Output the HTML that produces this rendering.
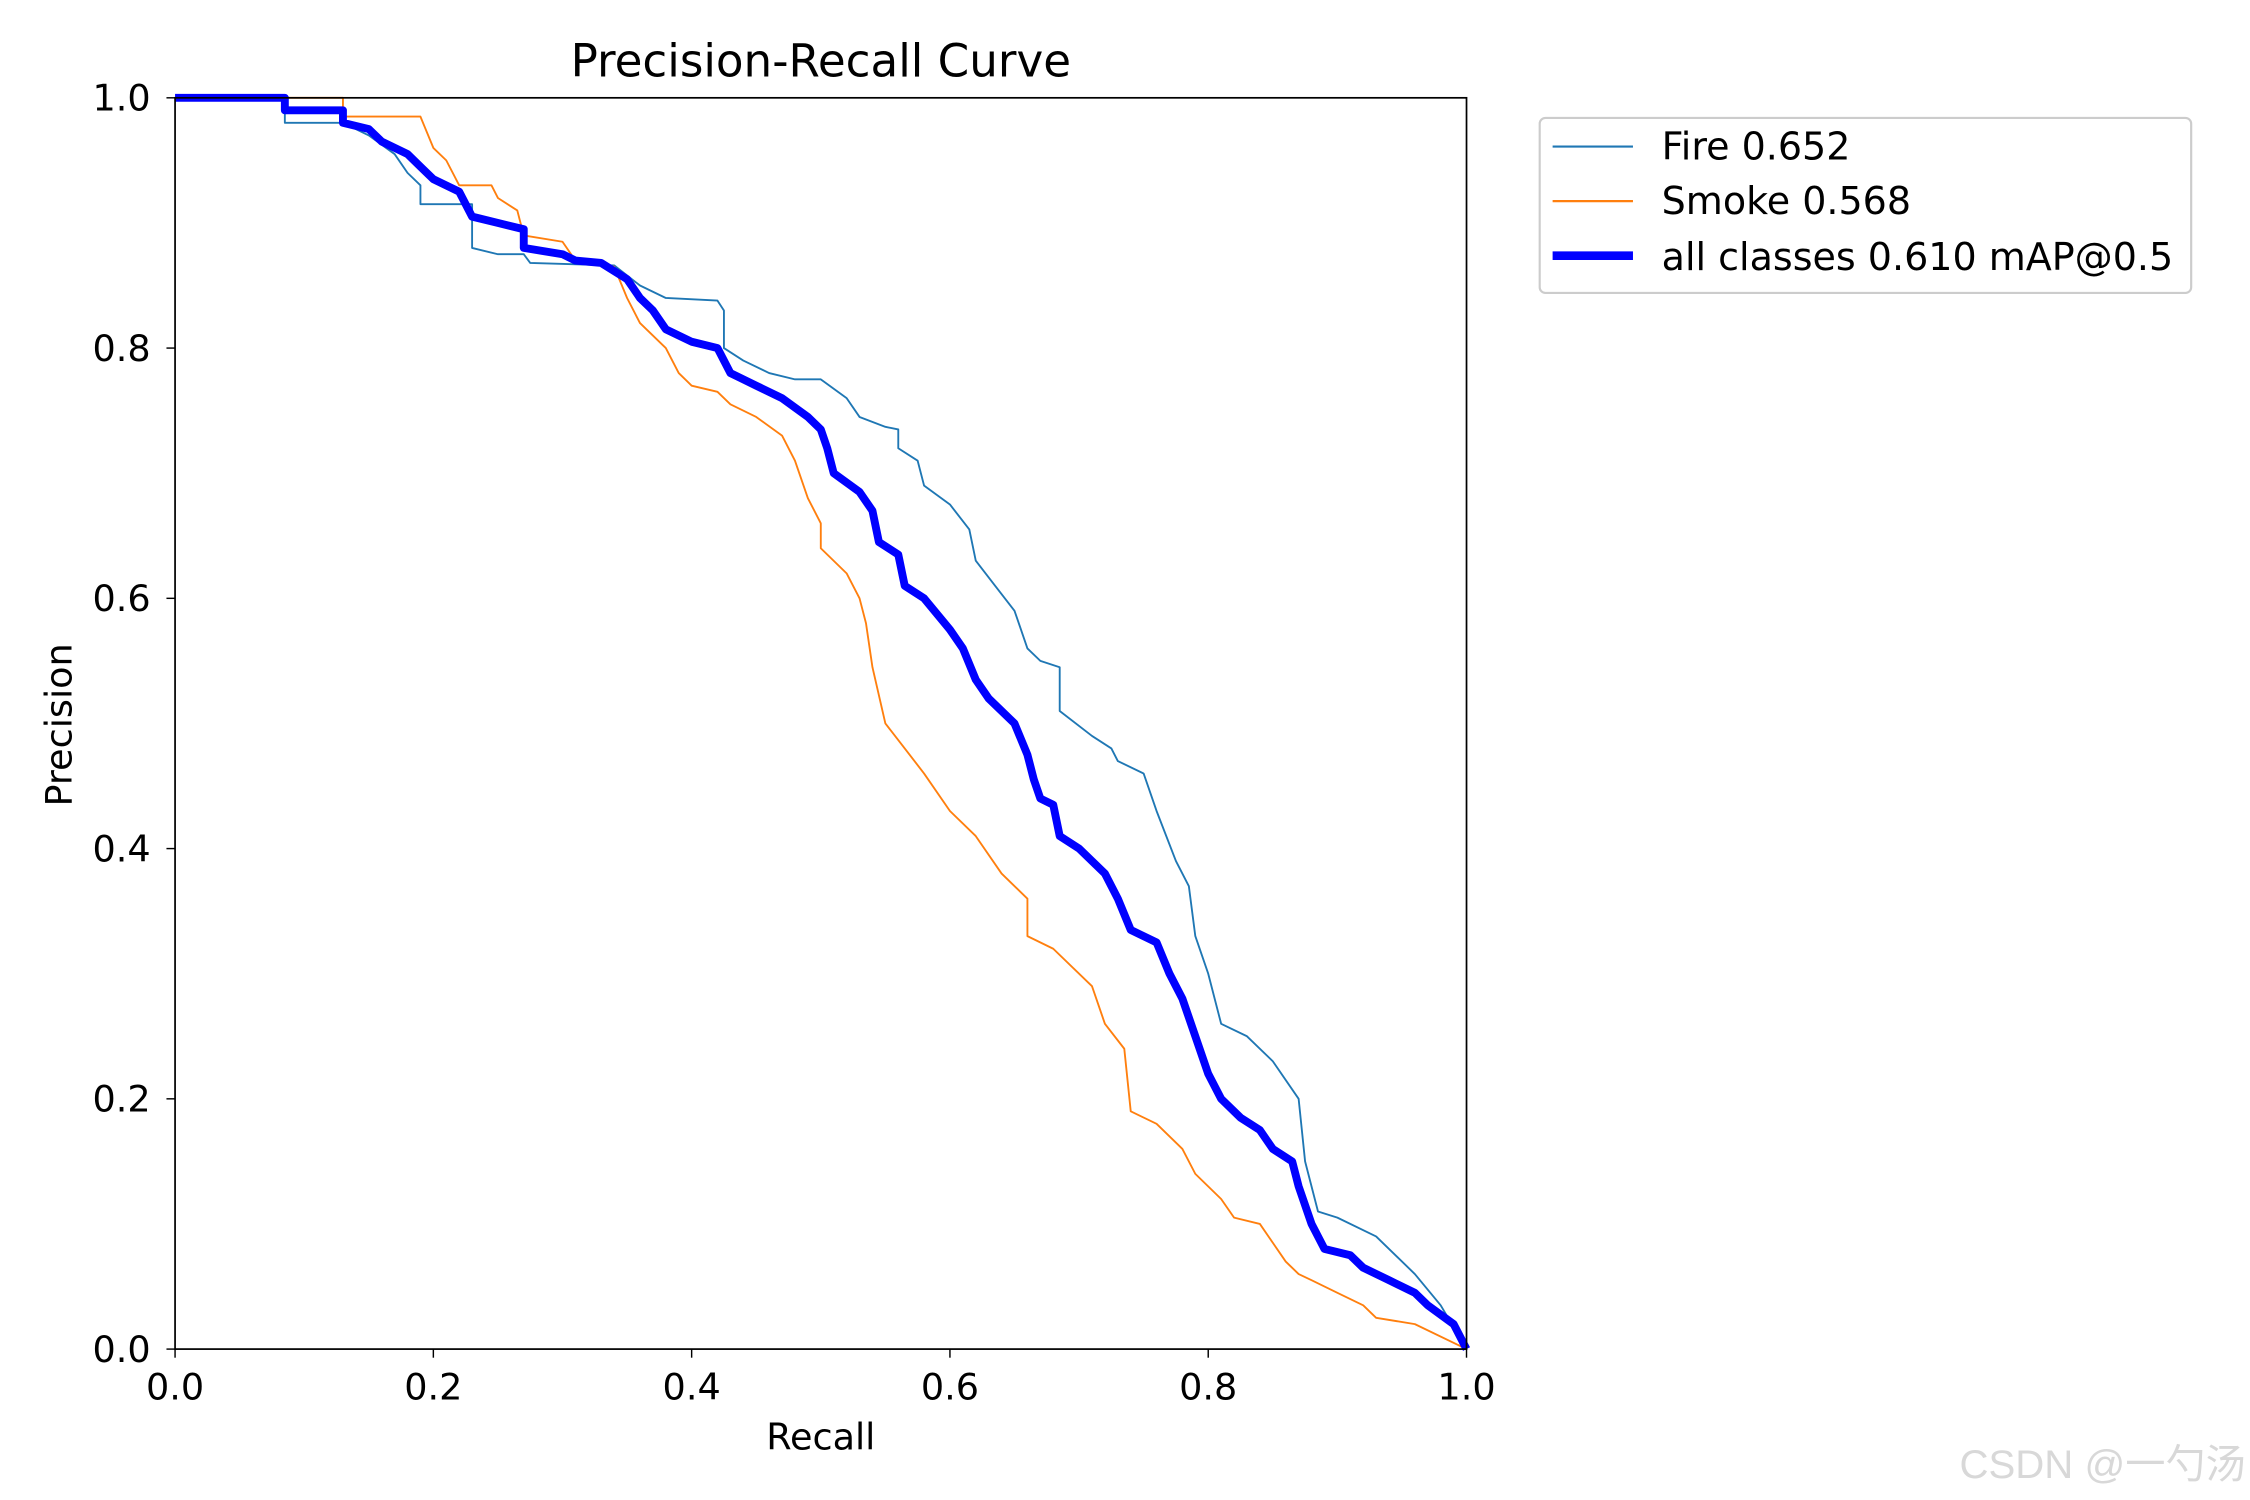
<!DOCTYPE html>
<html><head><meta charset="utf-8"><style>
html,body{margin:0;padding:0;background:#fff;}
svg{display:block;font-family:"DejaVu Sans","Liberation Sans","Noto Sans CJK SC",sans-serif;}
</style></head><body>
<svg id="chart" width="2250" height="1500" viewBox="0 0 1568 1045" xmlns="http://www.w3.org/2000/svg">
<rect width="1568" height="1045" fill="#fff"/>
<text x="572" y="53" font-size="31.5" text-anchor="middle">Precision-Recall Curve</text>
<g id="plot"></g>
<rect x="122" y="68" width="900" height="872" fill="none" stroke="#000" stroke-width="1.2"/>
<g id="ticks"></g>
<text x="572" y="1010" font-size="25.5" text-anchor="middle">Recall</text>
<text x="0" y="0" font-size="25.5" text-anchor="middle" transform="translate(50,505) rotate(-90)">Precision</text>
<g>
<rect x="1073" y="82" width="454" height="122" rx="4" fill="#fff" stroke="#ccc" stroke-width="1.5"/>
<line x1="1082" y1="102" x2="1138" y2="102" stroke="#1f77b4" stroke-width="1.5"/>
<text x="1158" y="111" font-size="26.5">Fire 0.652</text>
<line x1="1082" y1="140" x2="1138" y2="140" stroke="#ff7f0e" stroke-width="1.5"/>
<text x="1158" y="149" font-size="26.5">Smoke 0.568</text>
<line x1="1082" y1="178" x2="1138" y2="178" stroke="#0000ff" stroke-width="6"/>
<text x="1158" y="188" font-size="26.5">all classes 0.610 mAP@0.5</text>
</g>
<text x="1565" y="1030" font-size="28" text-anchor="end" fill="#d8d8d8" font-family="Liberation Sans, Noto Sans CJK SC, sans-serif">CSDN @一勺汤</text>
</svg>
<script>
const xTicks=[0,0.2,0.4,0.6,0.8,1.0];
const yTicks=[0,0.2,0.4,0.6,0.8,1.0];
const tickLabels=["0.0","0.2","0.4","0.6","0.8","1.0"];
const fireRecall=[0,0.085,0.085,0.13,0.15,0.17,0.18,0.19,0.19,0.23,0.23,0.25,0.27,0.275,0.34,0.36,0.38,0.42,0.425,0.425,0.44,0.46,0.48,0.5,0.52,0.53,0.55,0.56,0.56,0.575,0.58,0.6,0.615,0.62,0.635,0.65,0.655,0.66,0.67,0.685,0.685,0.71,0.725,0.73,0.75,0.76,0.775,0.785,0.79,0.8,0.81,0.83,0.85,0.87,0.875,0.885,0.9,0.93,0.96,0.98,1.0];
const firePrecision=[1,1,0.98,0.98,0.97,0.955,0.94,0.93,0.915,0.915,0.88,0.875,0.875,0.868,0.866,0.85,0.84,0.838,0.83,0.8,0.79,0.78,0.775,0.775,0.76,0.745,0.737,0.735,0.72,0.71,0.69,0.675,0.655,0.63,0.61,0.59,0.575,0.56,0.55,0.545,0.51,0.49,0.48,0.47,0.46,0.43,0.39,0.37,0.33,0.3,0.26,0.25,0.23,0.2,0.15,0.11,0.105,0.09,0.06,0.035,0];
const smokeRecall=[0,0.13,0.13,0.19,0.2,0.21,0.22,0.245,0.25,0.265,0.27,0.3,0.31,0.34,0.35,0.36,0.38,0.39,0.4,0.42,0.43,0.45,0.47,0.48,0.49,0.5,0.5,0.52,0.53,0.535,0.54,0.55,0.565,0.58,0.6,0.62,0.64,0.66,0.66,0.68,0.71,0.72,0.735,0.74,0.76,0.78,0.79,0.81,0.82,0.84,0.85,0.86,0.87,0.88,0.9,0.92,0.93,0.96,1.0];
const smokePrecision=[1,1,0.985,0.985,0.96,0.95,0.93,0.93,0.92,0.91,0.89,0.885,0.87,0.865,0.84,0.82,0.8,0.78,0.77,0.765,0.755,0.745,0.73,0.71,0.68,0.66,0.64,0.62,0.6,0.58,0.545,0.5,0.48,0.46,0.43,0.41,0.38,0.36,0.33,0.32,0.29,0.26,0.24,0.19,0.18,0.16,0.14,0.12,0.105,0.1,0.085,0.07,0.06,0.055,0.045,0.035,0.025,0.02,0];
const allRecall=[0,0.085,0.085,0.13,0.13,0.15,0.16,0.18,0.19,0.2,0.22,0.23,0.25,0.27,0.27,0.3,0.31,0.33,0.35,0.36,0.37,0.38,0.4,0.42,0.43,0.45,0.47,0.49,0.5,0.505,0.51,0.53,0.54,0.545,0.56,0.565,0.58,0.6,0.61,0.62,0.63,0.65,0.66,0.665,0.67,0.68,0.685,0.7,0.72,0.73,0.74,0.76,0.77,0.78,0.79,0.8,0.81,0.825,0.84,0.85,0.865,0.87,0.88,0.89,0.91,0.92,0.94,0.96,0.97,0.99,1.0];
const allPrecision=[1,1,0.99,0.99,0.98,0.975,0.965,0.955,0.945,0.935,0.925,0.905,0.9,0.895,0.88,0.875,0.87,0.868,0.855,0.84,0.83,0.815,0.805,0.8,0.78,0.77,0.76,0.745,0.735,0.72,0.7,0.685,0.67,0.645,0.635,0.61,0.6,0.575,0.56,0.535,0.52,0.5,0.475,0.455,0.44,0.435,0.41,0.4,0.38,0.36,0.335,0.325,0.3,0.28,0.25,0.22,0.2,0.185,0.175,0.16,0.15,0.13,0.1,0.08,0.075,0.065,0.055,0.045,0.035,0.02,0];
const NS="http://www.w3.org/2000/svg";
function xs(v){return 122+v*900;}
function ys(v){return 940-v*872;}
const plot=document.getElementById('plot');
function drawLine(rx,py,color,w,name){
  const p=document.createElementNS(NS,'polyline');
  p.setAttribute('points',rx.map((r,i)=>xs(r).toFixed(1)+','+ys(py[i]).toFixed(1)).join(' '));
  p.setAttribute('fill','none');p.setAttribute('stroke',color);p.setAttribute('stroke-width',w);
  p.setAttribute('stroke-linejoin','round');
  
  
  plot.appendChild(p);
}
drawLine(fireRecall,firePrecision,'#1f77b4',1.3,'fire-curve');
drawLine(smokeRecall,smokePrecision,'#ff7f0e',1.3,'smoke-curve');
drawLine(allRecall,allPrecision,'#0000ff',5.5,'all-classes-curve');
const tg=document.getElementById('ticks');
xTicks.forEach((t,i)=>{
  const l=document.createElementNS(NS,'line');
  l.setAttribute('x1',xs(t));l.setAttribute('x2',xs(t));l.setAttribute('y1',940);l.setAttribute('y2',946);l.setAttribute('stroke','#000');
  
  
  tg.appendChild(l);
  const tx=document.createElementNS(NS,'text');
  tx.setAttribute('x',xs(t));tx.setAttribute('y',975);tx.setAttribute('font-size','25.5');tx.setAttribute('text-anchor','middle');
  tx.textContent=tickLabels[i];
  
  
  tg.appendChild(tx);
});
yTicks.forEach((t,i)=>{
  const l=document.createElementNS(NS,'line');
  l.setAttribute('x1',116);l.setAttribute('x2',122);l.setAttribute('y1',ys(t));l.setAttribute('y2',ys(t));l.setAttribute('stroke','#000');
  
  
  tg.appendChild(l);
  const tx=document.createElementNS(NS,'text');
  tx.setAttribute('x',105);tx.setAttribute('y',ys(t)+9);tx.setAttribute('font-size','25.5');tx.setAttribute('text-anchor','end');
  tx.textContent=tickLabels[i];
  
  
  tg.appendChild(tx);
});
</script>
</body></html>
